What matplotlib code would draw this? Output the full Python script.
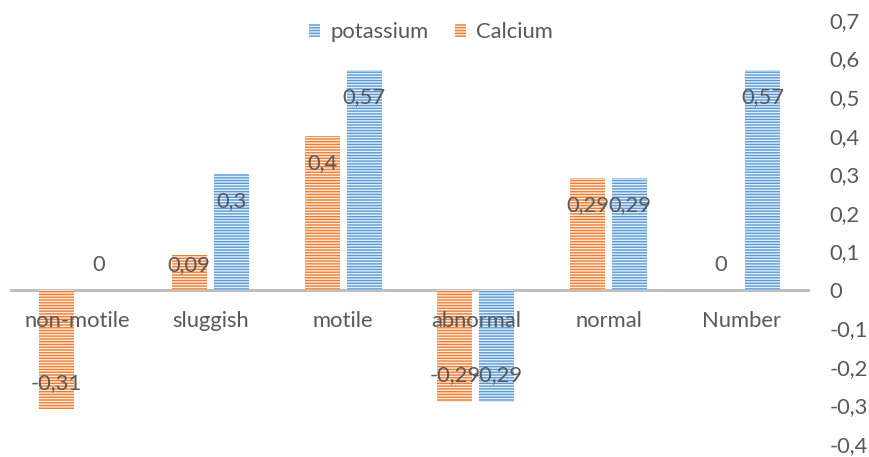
import matplotlib
matplotlib.use("Agg")
import matplotlib.pyplot as plt
import numpy as np

categories = ["non-motile", "sluggish", "motile", "abnormal", "normal", "Number"]
calcium = [-0.31, 0.09, 0.40, -0.29, 0.29, 0.0]
potassium = [0.0, 0.30, 0.57, -0.29, 0.29, 0.57]
yticks = [-0.4, -0.3, -0.2, -0.1, 0.0, 0.1, 0.2, 0.3, 0.4, 0.5, 0.6, 0.7]

ORANGE = "#ED7D31"
BLUE = "#5B9BD5"
TEXT = "#595959"
AXIS = "#BFBFBF"
FS = 15.8

plt.rcParams["font.family"] = ["Lato", "DejaVu Sans"]
plt.rcParams["hatch.linewidth"] = 1.0

W, H = 869, 457
fig = plt.figure(figsize=(W / 100, H / 100), dpi=100)
ax = fig.add_axes([11 / W, 1 - 444 / H, (808 - 11) / W, (444 - 20) / H])

x = np.arange(len(categories))
bw = 0.263
off = 0.158
hatch = "-" * 6

bars_ca = ax.bar(x - off, calcium, bw, color=ORANGE, edgecolor="#FDEBDF",
                 linewidth=0, hatch=hatch, label="Calcium")
bars_k = ax.bar(x + off, potassium, bw, color=BLUE, edgecolor="#E3EEF8",
                linewidth=0, hatch=hatch, label="potassium")

ax.set_xlim(-0.5, len(categories) - 0.5)
ax.set_ylim(-0.4, 0.7)


def fmt(v):
    s = f"{v:.2f}".rstrip("0").rstrip(".")
    if s in ("-0", ""):
        s = "0"
    return s.replace(".", ",")


def label_y(v):
    # inside-end placement, pushed clear of the zero line for short bars
    if v < 0:
        return v + 0.068
    return max(v - 0.07, 0.065)


for xs, vals in ((x - off, calcium), (x + off, potassium)):
    for xi, v in zip(xs, vals):
        ax.text(xi, label_y(v), fmt(v), ha="center", va="center",
                fontsize=FS, color=TEXT, zorder=5)

# axes styling: only the zero line, value axis on the right
for side in ("top", "left", "right"):
    ax.spines[side].set_visible(False)
ax.spines["bottom"].set_position(("data", 0))
ax.spines["bottom"].set_color(AXIS)
ax.spines["bottom"].set_linewidth(2.2)
ax.spines["bottom"].set_zorder(0.5)

ax.set_xticks(x)
ax.set_xticklabels(categories)
ax.tick_params(axis="x", length=0, pad=15.5, labelsize=FS, labelcolor=TEXT)

ax.yaxis.tick_right()
ax.set_yticks(yticks)
ax.set_yticklabels([fmt(t) for t in yticks])
ax.tick_params(axis="y", length=0, pad=15.5, labelsize=FS, labelcolor=TEXT)

handles = [bars_k, bars_ca]
fig.legend(handles, ["potassium", "Calcium"], loc="center",
           bbox_to_anchor=(431 / W, 1 - 32 / H), ncol=2, frameon=False,
           fontsize=FS, labelcolor=TEXT, handlelength=0.5, handleheight=0.55,
           handletextpad=0.45, columnspacing=1.2)

fig.savefig("out.png", dpi=100)
